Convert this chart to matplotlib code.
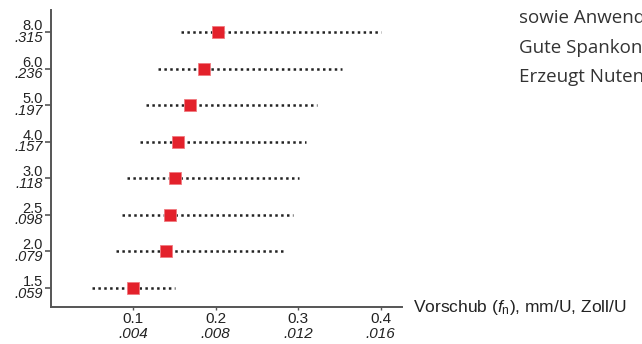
import numpy as np
import matplotlib.pyplot as plt

plt.rcParams['font.family'] = ['Liberation Sans', 'DejaVu Sans']
plt.rcParams['mathtext.fontset'] = 'custom'
plt.rcParams['mathtext.rm'] = 'Liberation Sans'
plt.rcParams['mathtext.it'] = 'Liberation Sans:italic'

# depth of cut per row (mm / inch)
depth_mm = ['1.5', '2.0', '2.5', '3.0', '4.0', '5.0', '6.0', '8.0']
depth_in = ['.059', '.079', '.098', '.118', '.157', '.197', '.236', '.315']

# feed range (min, max) and recommended start value, mm/rev
feed_min = [0.050, 0.079, 0.086, 0.092, 0.108, 0.115, 0.130, 0.158]
feed_max = [0.150, 0.284, 0.294, 0.301, 0.309, 0.323, 0.353, 0.400]
feed_start = [0.10, 0.14, 0.144, 0.15, 0.154, 0.169, 0.186, 0.203]

xticks = [0.1, 0.2, 0.3, 0.4]
xticks_in = ['.004', '.008', '.012', '.016']

side_text = ['sowie Anwendungen', 'Gute Spankontrolle', 'Erzeugt Nuten']

fig = plt.figure(figsize=(6.42, 3.44), dpi=100)
ax = fig.add_axes([0.0794, 0.1076, 0.5467, 0.8634])

rows = np.arange(len(depth_mm))
for y, lo, hi, st in zip(rows, feed_min, feed_max, feed_start):
    ax.plot([lo, hi], [y, y], color='#222222', lw=1.8,
            linestyle=(0, (1, 1.35)), dash_capstyle='butt', zorder=2)
    ax.plot(st, y, marker='s', ms=8, color='#e3212b',
            markeredgecolor='#f07a80', markeredgewidth=0.6, zorder=3)

ax.set_xlim(0, 0.426)
ax.set_ylim(-0.52, 7.6)

for side in ['top', 'right']:
    ax.spines[side].set_visible(False)
for side in ['left', 'bottom']:
    ax.spines[side].set_color('#555555')
    ax.spines[side].set_linewidth(1.4)

ax.set_yticks(rows)
ax.set_yticklabels([])
ax.tick_params(axis='y', length=4.3, width=1.2, color='#555555')
ax.set_xticks(xticks)
ax.set_xticklabels([])
ax.tick_params(axis='x', length=2, width=1, color='#555555')

# two-line tick labels: metric upright, inch italic
ytr = ax.get_yaxis_transform()
for y, mm, inch in zip(rows, depth_mm, depth_in):
    ax.annotate(mm, (0, y), xycoords=ytr, xytext=(-5.8, 1.4),
                textcoords='offset points', ha='right', va='baseline',
                fontsize=10.5, color='#222222')
    ax.annotate(inch, (0, y), xycoords=ytr, xytext=(-5.8, 1.0),
                textcoords='offset points', ha='right', va='top',
                fontsize=10.5, style='italic', color='#222222')

xtr = ax.get_xaxis_transform()
for x, inch in zip(xticks, xticks_in):
    ax.annotate(f'{x:.1f}', (x, 0), xycoords=xtr, xytext=(0, -3.8),
                textcoords='offset points', ha='center', va='top',
                fontsize=11, color='#222222')
    ax.annotate(inch, (x, 0), xycoords=xtr, xytext=(0, -14.2),
                textcoords='offset points', ha='center', va='top',
                fontsize=11, style='italic', color='#222222')

ax.annotate(r'Vorschub ($f_\mathrm{n}$), mm/U, Zoll/U', (1, 0),
            xycoords='axes fraction', xytext=(8, -3.6),
            textcoords='offset points', ha='left', va='baseline',
            fontsize=12.5, color='#222222', annotation_clip=False)

for i, t in enumerate(side_text):
    fig.text(0.808, 0.933 - i * 0.086, t, ha='left', va='baseline',
             fontsize=13.5, color='#333333', family=['Open Sans', 'DejaVu Sans'])

fig.savefig('out.png', dpi=100)
